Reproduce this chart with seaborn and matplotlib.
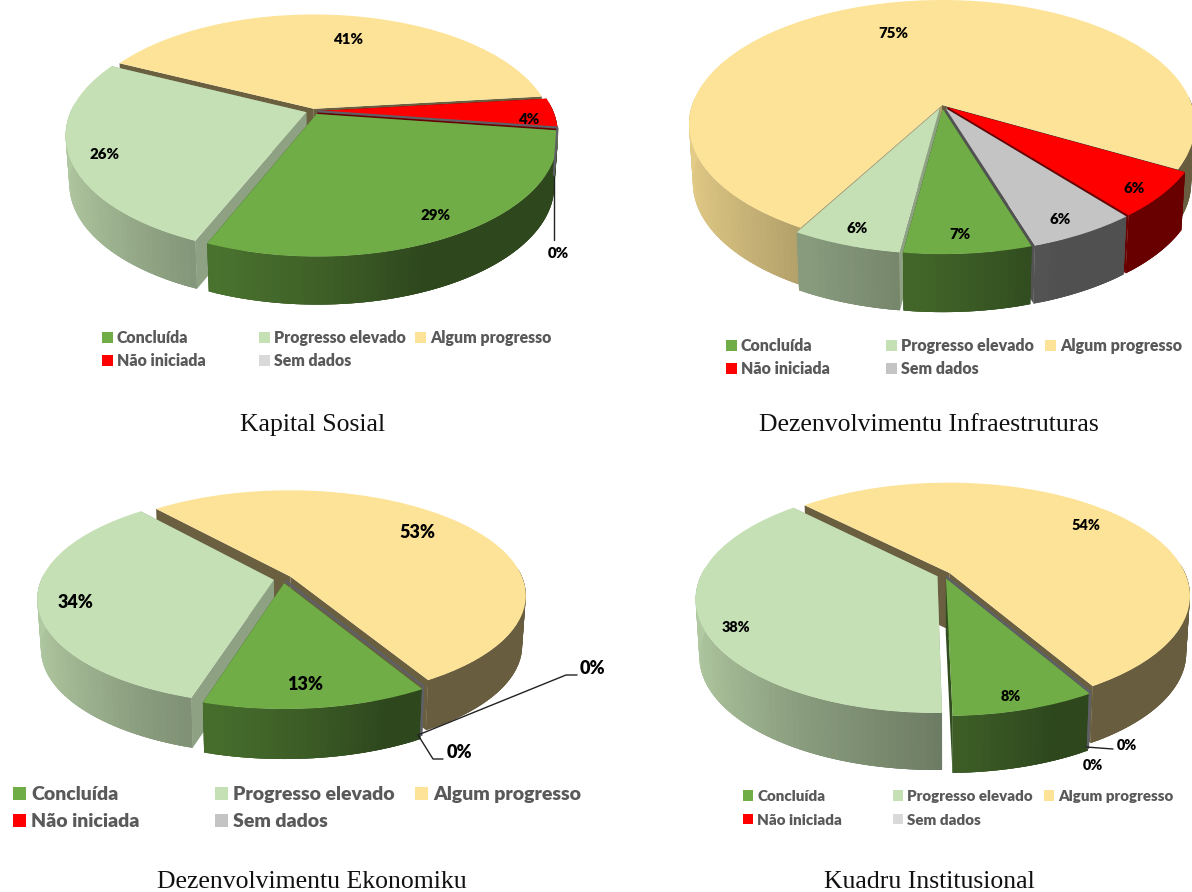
import numpy as np
import matplotlib
matplotlib.use("Agg")
import matplotlib.pyplot as plt
from matplotlib.patches import Patch
from matplotlib.transforms import Transform, Affine2D
from matplotlib.colors import to_rgb
import seaborn as sns

# ---- data ----
status = ["Concluída", "Progresso elevado", "Algum progresso", "Não iniciada", "Sem dados"]
kapital_sosial = [29, 26, 41, 4, 0]
infraestruturas = [7, 6, 75, 6, 6]
ekonomiku = [13, 34, 53, 0, 0]
institusional = [8, 38, 54, 0, 0]
titles = ["Kapital Sosial", "Dezenvolvimentu Infraestruturas",
          "Dezenvolvimentu Ekonomiku", "Kuadru Institusional"]

# ---- style ----
sns.set_theme(style="white")
plt.rcParams["font.family"] = ["Lato", "DejaVu Sans"]
colors = sns.color_palette(["#70AD47", "#C5E0B4", "#FDE397", "#FF0000", "#C4C4C4"])
text_grey = "#595959"
WALL_X = [-1, -.5, 0, .35, 1]
WALL_S = [.90, .70, .55, .41, .41]
CUT = [.45, .72, .42, .42, .42]
BOLD = "heavy"


class Persp(Transform):
    input_dims = output_dims = 2
    is_affine = False
    has_inverse = False

    def __init__(self, cx, cy, R, b, a):
        super().__init__()
        self.p = (cx, cy, R, b, a)

    def transform_non_affine(self, pts):
        cx, cy, R, b, a = self.p
        pts = np.asarray(pts, float)
        w = 1 + a * pts[:, 1]
        return np.column_stack((cx + R * pts[:, 0] / w, cy - b * pts[:, 1] / w))


layouts = [
    dict(values=kapital_sosial, box=(0, 0, 596, 446), cx=313, cy=111, hw=240, back=95, front=141, depth=48,
         start=98, explode=[.03, .03, .02, .02, .02], pct=.86, lab=10.8,
         nudge=[(0, 1), (0, 5), (5, 13), (8, 7), (0, 0)],
         leg_x=[102, 259, 415], leg_y=330, leg_fs=11.4, row=.42, title=(313, 425),
         leaders=[[(554, 177), (554, 240)]], zeros=[("0%", 558, 254)], sem="#D9D9D9"),
    dict(values=infraestruturas, box=(596, 0, 1192, 446), cx=942, cy=105, hw=253, back=105, front=144, depth=58,
         start=162.5, explode=[.03, .03, .0, .03, .03], pct=.84, lab=10.8,
         nudge=[(-4, 8), (-6, 8), (2, 16), (10, 9), (1, 9)],
         leg_x=[726, 886, 1045], leg_y=338, leg_fs=11.5, row=.46, title=(929, 425),
         leaders=[], zeros=[], sem="#C4C4C4"),
    dict(values=ekonomiku, box=(0, 446, 596, 892), cx=283, cy=579, hw=236, back=87, front=124, depth=50,
         start=150, explode=[.04, .04, .04, .02, .02], pct=.80, lab=13,
         nudge=[(-4, 6), (-11, 5), (-12, -1), (0, 0), (0, 0)],
         leg_x=[13, 215, 415], leg_y=786, leg_fs=14, row=.52, title=(312, 882),
         leaders=[[(418, 735), (566, 675), (577, 675)], [(418, 735), (433, 759), (443, 759)]],
         zeros=[("0%", 592, 669), ("0%", 459, 753)], sem="#C4C4C4"),
    dict(values=institusional, box=(596, 446, 1192, 892), cx=944, cy=575, hw=241, back=91, front=136, depth=57,
         start=150, explode=[.03, .03, .03, .02, .02], pct=.80, lab=10.4,
         nudge=[(4, 18), (-15, 15), (0, 0), (0, 0), (0, 0)],
         leg_x=[743, 893, 1044], leg_y=790, leg_fs=10.9, row=.70, title=(929, 882),
         leaders=[[(1086, 747), (1113, 749)]], zeros=[("0%", 1127, 746), ("0%", 1093, 766)], sem="#D9D9D9"),
]

W, H = 1192, 892
fig = plt.figure(figsize=(W / 100, H / 100), dpi=100, facecolor="white")


def shade(c, s):
    return tuple(np.array(to_rgb(c)) * s)


def draw_pie(spec, title):
    x0, y0, x1, y1 = spec["box"]
    ax = fig.add_axes([x0 / W, 1 - y1 / H, (x1 - x0) / W, (y1 - y0) / H])
    wedges, _, autotexts = ax.pie(
        spec["values"], colors=colors, explode=spec["explode"], startangle=90 - spec["start"],
        counterclock=False, radius=1, pctdistance=spec["pct"],
        autopct=lambda p: f"{p:.0f}%" if p > .5 else "",
        wedgeprops=dict(linewidth=0))
    ax.set_aspect("auto")
    ax.set_xlim(x0, x1)
    ax.set_ylim(y1, y0)
    ax.set_axis_off()

    a = (spec["front"] - spec["back"]) / (spec["front"] + spec["back"])
    b = spec["back"] * (1 + a)
    R = spec["hw"] * np.sqrt(1 - a * a)
    proj = Persp(spec["cx"], spec["cy"], R, b, a)
    depth = spec["depth"]
    squeeze = .985

    def bottom(p):
        return np.column_stack((spec["cx"] + (p[:, 0] - spec["cx"]) * squeeze, p[:, 1] + depth))

    order = sorted(range(len(wedges)), key=lambda i: -np.sin(np.radians((wedges[i].theta1 + wedges[i].theta2) / 2)))
    for rank, i in enumerate(order):
        wd = wedges[i]
        base = 10 + rank * 5
        col = colors[i]
        c = np.array(wd.center)
        empty = spec["values"][i] == 0
        wd.set_transform(proj + ax.transData)
        wd.set_zorder(base + 3)
        wd.set_clip_on(False)

        def rim(deg):
            r = np.radians(np.atleast_1d(deg))
            return proj.transform_non_affine(np.column_stack((c[0] + np.cos(r), c[1] + np.sin(r))))

        apex = proj.transform_non_affine(c[None, :])
        if empty:
            col_line = "#5F5F66"
            top = np.vstack((apex, rim(wd.theta1)))
            ax.plot(top[:, 0], top[:, 1], color=col_line, lw=1.6, zorder=60, solid_capstyle="butt")
            low = np.vstack((top[1:], bottom(top[1:])))
            ax.plot(low[:, 0], low[:, 1], color=col_line, lw=1.6, zorder=60, solid_capstyle="butt")
            continue

        # cut faces sit behind the outer wall
        for th in (wd.theta1, wd.theta2):
            s = CUT[i]
            if spec is layouts[1] and i == 2 and np.sin(np.radians(th)) < 0 and np.cos(np.radians(th)) < 0:
                s = .70
            top = np.vstack((apex, rim(th)))
            poly = np.vstack((top, bottom(top)[::-1]))
            ax.fill(poly[:, 0], poly[:, 1], color=shade(col, s), lw=0, zorder=base)

        # outer wall: overlapping strips shaded by their horizontal position
        n = max(int((wd.theta2 - wd.theta1) / 1.5), 2)
        edges = np.linspace(wd.theta1, wd.theta2, n + 1)
        step = edges[1] - edges[0]
        visible = [(t0, t1) for t0, t1 in zip(edges[:-1], edges[1:]) if np.sin(np.radians((t0 + t1) / 2)) <= .05]
        # paint from the dark (right) side to the light (left) side so each strip covers the seam
        visible.sort(key=lambda t: -np.cos(np.radians((t[0] + t[1]) / 2)))
        for t0, t1 in visible:
            mid = np.radians((t0 + t1) / 2)
            lo, hi = max(t0 - step, wd.theta1), min(t1 + step, wd.theta2)
            top = rim(np.linspace(lo, hi, 4))
            poly = np.vstack((top, bottom(top)[::-1]))
            s = np.interp(np.cos(mid), WALL_X, WALL_S)
            ax.fill(poly[:, 0], poly[:, 1], color=shade(col, s), lw=0, zorder=base + 1)

    for k, t in enumerate(autotexts):
        dx, dy = spec["nudge"][k]
        t.set_transform(proj + Affine2D().translate(dx, dy) + ax.transData)
        t.set_fontsize(spec["lab"])
        t.set_fontweight(BOLD)
        t.set_color("black")
        t.set_zorder(100)

    for pts in spec["leaders"]:
        p = np.array(pts)
        ax.plot(p[:, 0], p[:, 1], color="#222222", lw=1, zorder=90, clip_on=False)
    for s, x, y in spec["zeros"]:
        ax.text(x, y, s, ha="center", va="center", fontsize=spec["lab"], fontweight=BOLD,
                color="black", zorder=100)

    # legend: three columns of differing width
    fcs = list(colors[:4]) + [spec["sem"]]
    columns = [[0, 3], [1, 4], [2]]
    for xpos, idx in zip(spec["leg_x"], columns):
        handles = [Patch(facecolor=fcs[j], edgecolor="none", label=status[j]) for j in idx]
        leg = ax.legend(handles=handles, loc="upper left", bbox_to_anchor=(xpos, spec["leg_y"]),
                        bbox_transform=ax.transData, frameon=False, borderpad=0, borderaxespad=0,
                        handlelength=.68, handleheight=.68, handletextpad=.25, labelspacing=spec["row"],
                        prop=dict(family="Lato", weight=BOLD, size=spec["leg_fs"]),
                        labelcolor=text_grey)
        ax.add_artist(leg)
    ax.legend_ = None

    ax.text(spec["title"][0], spec["title"][1], title, ha="center", va="center",
            family="Liberation Serif", fontsize=18.5, color="#111111")


for spec, title in zip(layouts, titles):
    draw_pie(spec, title)

fig.savefig("out.png", dpi=100, facecolor="white")
